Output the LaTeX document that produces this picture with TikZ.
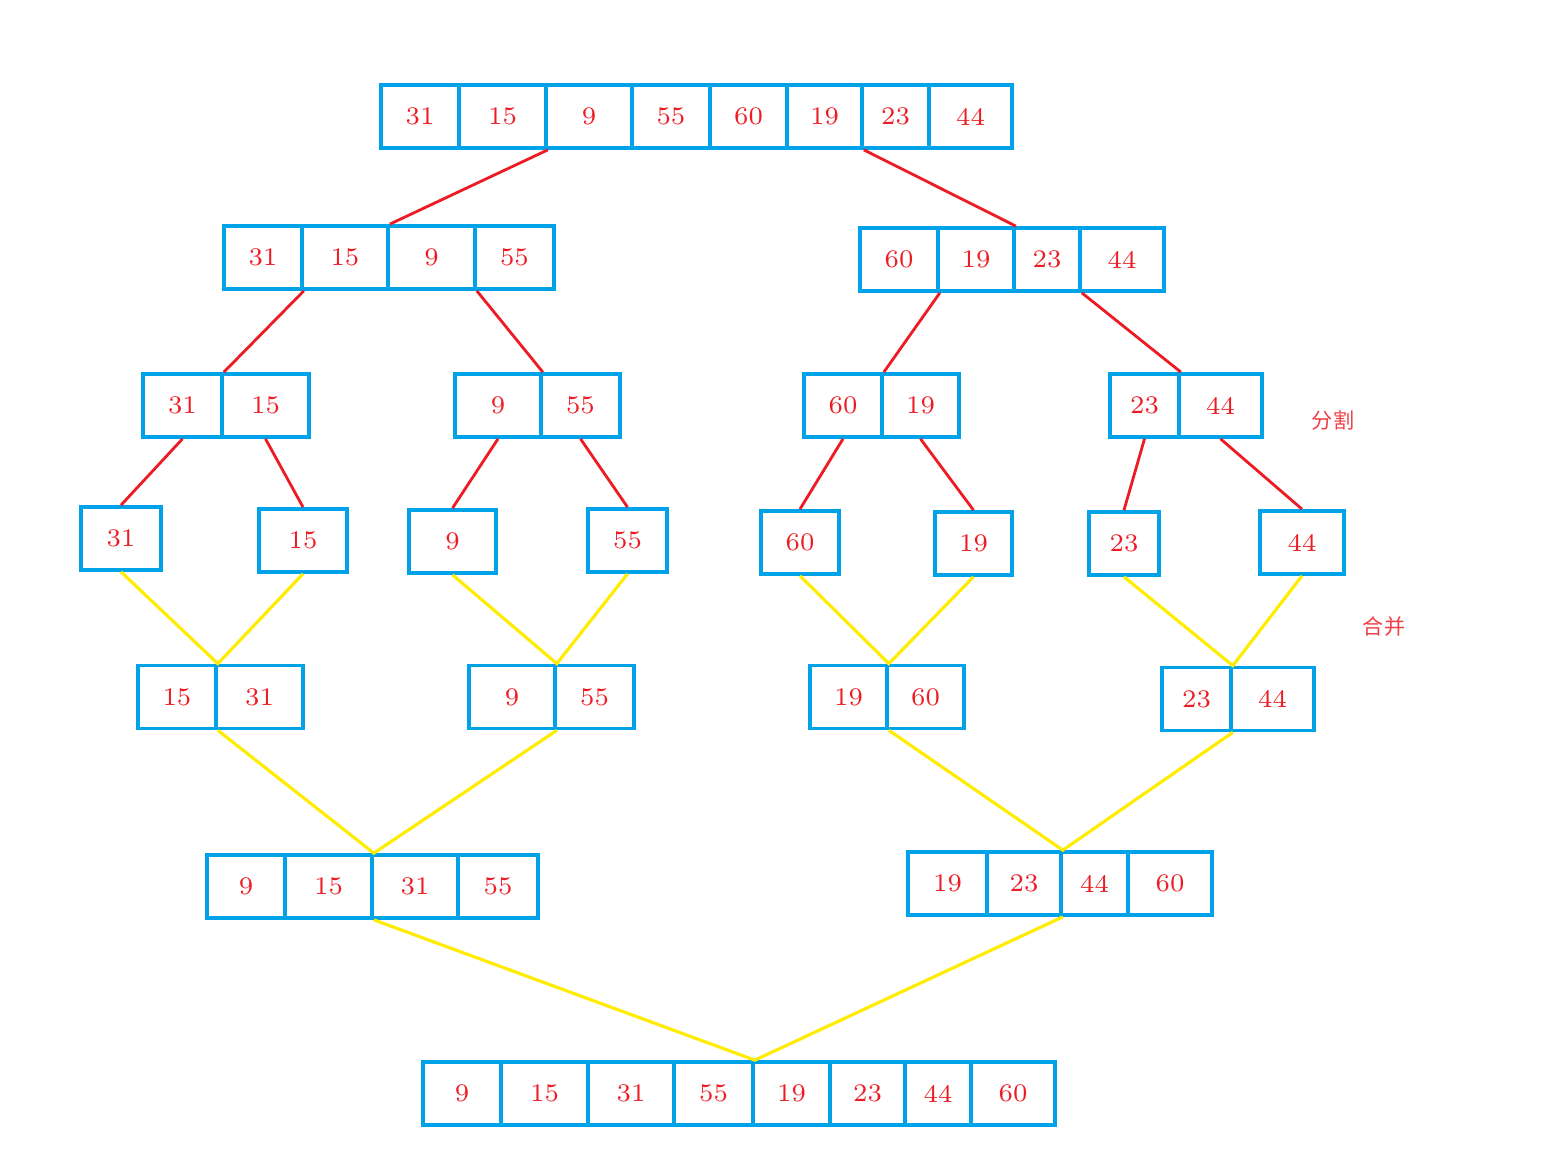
\documentclass[tikz,border=0pt]{standalone}
\usepackage{fontspec}
\newfontfamily\cjk{Noto Sans CJK SC}
\definecolor{paintblue}{RGB}{0,162,232}
\definecolor{paintred}{RGB}{237,28,36}
\definecolor{paintyellow}{RGB}{255,236,0}
\begin{document}
\begin{tikzpicture}[x=0.01cm, y=-0.01cm]
    \useasboundingbox (0,0) rectangle (1553,1161);

    % --- ESTILOS ---
    \tikzset{
        celda/.style={draw=paintblue, line width=1.05pt, rectangle, inner sep=0pt,
            minimum width=#1*0.01cm, minimum height=0.63cm,
            text=paintred, font=\fontsize{7.2}{8}\selectfont},
        divide/.style={draw=paintred, line width=0.8pt},
        junta/.style={draw=paintyellow, line width=0.9pt},
        rotulo/.style={text=paintred!85, font=\cjk\fontsize{6}{7}\selectfont}
    }

    % --- NIVEL 1 (arreglo original) ---
    \node[celda=78] (a1) at (420,116.5) {31};
    \node[celda=87] (a2) at (502.5,116.5) {15};
    \node[celda=86] (a3) at (589,116.5) {9};
    \node[celda=78] (a4) at (671,116.5) {55};
    \node[celda=77] (a5) at (748.5,116.5) {60};
    \node[celda=75] (a6) at (824.5,116.5) {19};
    \node[celda=67] (a7) at (895.5,116.5) {23};
    \node[celda=83] (a8) at (970.5,116.5) {44};

    % --- NIVEL 2 ---
    \node[celda=78] (b1) at (263,257.5) {31};
    \node[celda=86] (b2) at (345,257.5) {15};
    \node[celda=87] (b3) at (431.5,257.5) {9};
    \node[celda=79] (b4) at (514.5,257.5) {55};

    \node[celda=78] (c1) at (899,259.5) {60};
    \node[celda=76] (c2) at (976,259.5) {19};
    \node[celda=66] (c3) at (1047,259.5) {23};
    \node[celda=84] (c4) at (1122,259.5) {44};

    % --- NIVEL 3 ---
    \node[celda=79] (d1) at (182.5,405.5) {31};
    \node[celda=87] (d2) at (265.5,405.5) {15};
    \node[celda=86] (e1) at (498,405.5) {9};
    \node[celda=79] (e2) at (580.5,405.5) {55};
    \node[celda=78] (f1) at (843,405.5) {60};
    \node[celda=77] (f2) at (920.5,405.5) {19};
    \node[celda=69] (g1) at (1144.5,405.5) {23};
    \node[celda=83] (g2) at (1220.5,405.5) {44};

    % --- NIVEL 4 (elementos sueltos) ---
    \node[celda=80] (h1) at (121,538.5) {31};
    \node[celda=88] (h2) at (303,540.5) {15};
    \node[celda=87] (h3) at (452.5,541.5) {9};
    \node[celda=79] (h4) at (627.5,540.5) {55};
    \node[celda=78] (h5) at (800,542.5) {60};
    \node[celda=77] (h6) at (973.5,543.5) {19};
    \node[celda=70] (h7) at (1124,543.5) {23};
    \node[celda=84] (h8) at (1302,542.5) {44};

    % --- NIVEL 5 (pares ordenados) ---
    \node[celda=78] (i1) at (177,697) {15};
    \node[celda=87] (i2) at (259.5,697) {31};
    \node[celda=86] (j1) at (512,697) {9};
    \node[celda=79] (j2) at (594.5,697) {55};
    \node[celda=77] (k1) at (848.5,697) {19};
    \node[celda=77] (k2) at (925.5,697) {60};
    \node[celda=69] (l1) at (1196.5,699) {23};
    \node[celda=83] (l2) at (1272.5,699) {44};

    % --- NIVEL 6 ---
    \node[celda=78] (m1) at (246,886.5) {9};
    \node[celda=87] (m2) at (328.5,886.5) {15};
    \node[celda=86] (m3) at (415,886.5) {31};
    \node[celda=80] (m4) at (498,886.5) {55};

    \node[celda=79] (n1) at (947.5,883.5) {19};
    \node[celda=74] (n2) at (1024,883.5) {23};
    \node[celda=67] (n3) at (1094.5,883.5) {44};
    \node[celda=84] (n4) at (1170,883.5) {60};

    % --- NIVEL 7 (resultado) ---
    \node[celda=78] (o1) at (462,1093.5) {9};
    \node[celda=87] (o2) at (544.5,1093.5) {15};
    \node[celda=86] (o3) at (631,1093.5) {31};
    \node[celda=79] (o4) at (713.5,1093.5) {55};
    \node[celda=77] (o5) at (791.5,1093.5) {19};
    \node[celda=75] (o6) at (867.5,1093.5) {23};
    \node[celda=66] (o7) at (938,1093.5) {44};
    \node[celda=84] (o8) at (1013,1093.5) {60};

    % --- LÍNEAS DE DIVISIÓN (rojo) ---
    \draw[divide] (a2.south east) -- (b2.north east);
    \draw[divide] (a6.south east) -- (c2.north east);
    \draw[divide] (b1.south east) -- (d1.north east);
    \draw[divide] (b3.south east) -- (e1.north east);
    \draw[divide] (c1.south east) -- (f1.north east);
    \draw[divide] (c3.south east) -- (g1.north east);
    \draw[divide] (d1.south) -- (h1.north);
    \draw[divide] (d2.south) -- (h2.north);
    \draw[divide] (e1.south) -- (h3.north);
    \draw[divide] (e2.south) -- (h4.north);
    \draw[divide] (f1.south) -- (h5.north);
    \draw[divide] (f2.south) -- (h6.north);
    \draw[divide] (g1.south) -- (h7.north);
    \draw[divide] (g2.south) -- (h8.north);

    % --- LÍNEAS DE MEZCLA (amarillo) ---
    \draw[junta] (h1.south) -- (i1.north east) -- (h2.south);
    \draw[junta] (h3.south) -- (j1.north east) -- (h4.south);
    \draw[junta] (h5.south) -- (k1.north east) -- (h6.south);
    \draw[junta] (h7.south) -- (l1.north east) -- (h8.south);
    \draw[junta] (i1.south east) -- (m2.north east) -- (j1.south east);
    \draw[junta] (k1.south east) -- (n2.north east) -- (l1.south east);
    \draw[junta] (m2.south east) -- (o4.north east) -- (n2.south east);

    % --- ETIQUETAS ---
    \node[rotulo] (split) at (1333,420) {分割};
    \node[rotulo] (merge) at (1384,627) {合并};

\end{tikzpicture}
\end{document}
